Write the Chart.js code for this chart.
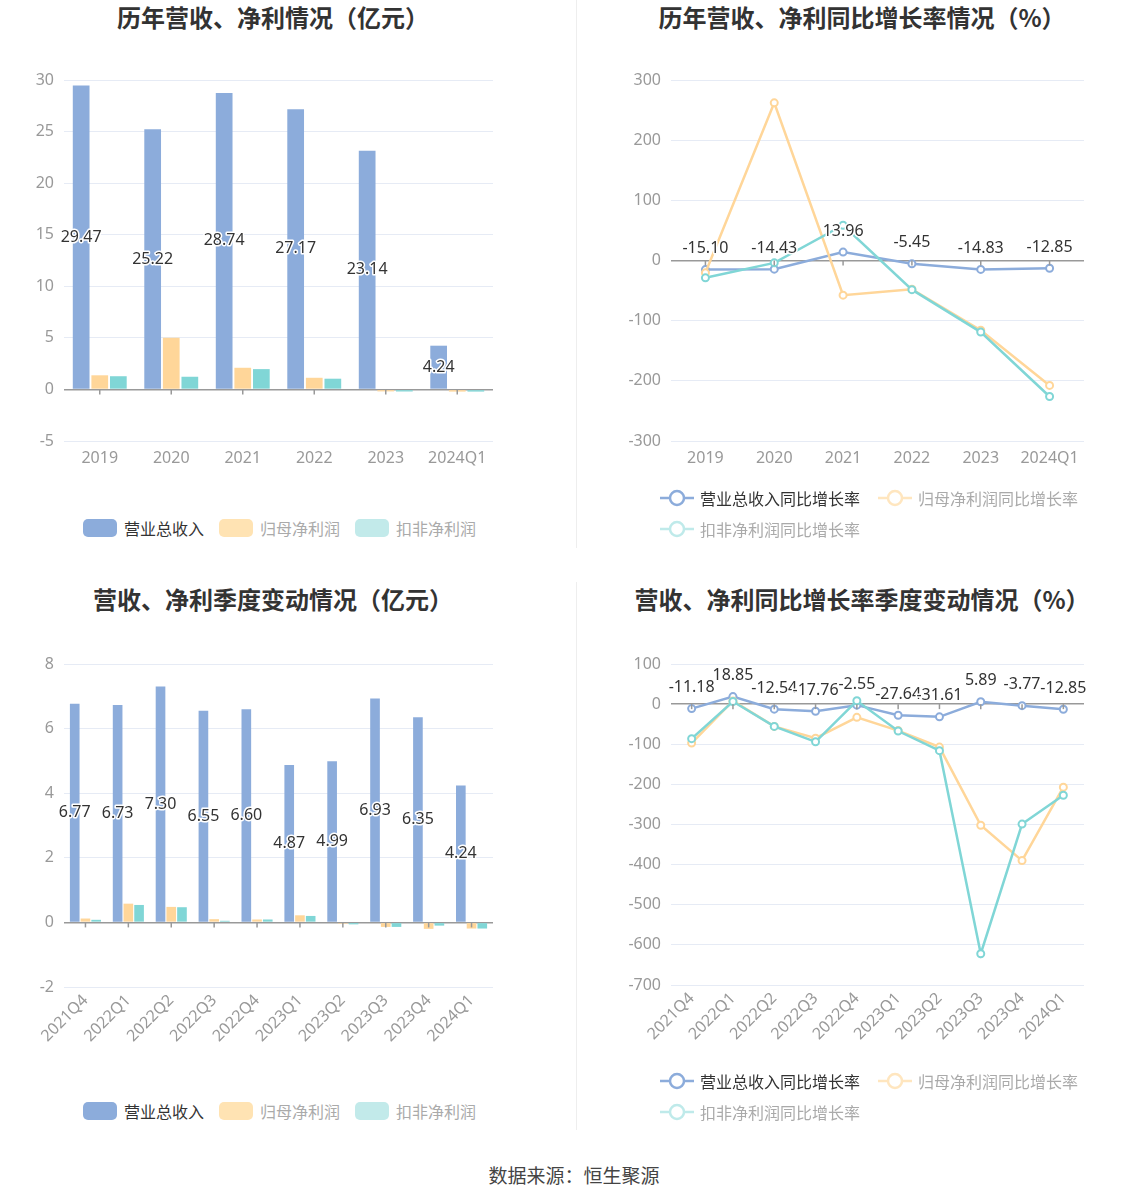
<!DOCTYPE html>
<html>
<head>
<meta charset="utf-8">
<script src="https://cdn.jsdelivr.net/npm/chart.js@4.4.1/dist/chart.umd.min.js"></script>
<style>
  body { margin: 0; background: #fff; font-family: "Noto Sans", "Noto Sans CJK SC", sans-serif; }
  #page { position: relative; width: 1148px; height: 1202px; overflow: hidden; }
  .title { position: absolute; width: 500px; margin-left: -250px; text-align: center; font-family: "Noto Sans CJK SC", sans-serif; font-size: 24px; font-weight: bold; color: #333; line-height: 36px; }
  canvas { position: absolute; }
  .divider { position: absolute; left: 576px; width: 1px; background: #eee; }
  .lg { position: absolute; height: 24px; line-height: 24px; font-family: "Noto Sans CJK SC", sans-serif; font-size: 16px; white-space: nowrap; }
  .lg .sw { position: absolute; left: 0; top: 3px; width: 34px; height: 18px; border-radius: 5px; }
  .lg svg { position: absolute; left: 0; top: 2px; }
  .lg span { position: absolute; top: 0; }
  #footer { position: absolute; left: 0; width: 1148px; top: 1160px; text-align: center; font-family: "Noto Sans CJK SC", sans-serif; font-size: 19px; color: #444; line-height: 30px; }
</style>
</head>
<body>
<div id="page">
  <div class="divider" style="top:0;height:548px"></div>
  <div class="divider" style="top:582px;height:548px"></div>

  <div class="title" style="left:273px;top:-1px">历年营收、净利情况（亿元）</div>
  <div class="title" style="left:862px;top:-1px">历年营收、净利同比增长率情况（%）</div>
  <div class="title" style="left:273px;top:581px">营收、净利季度变动情况（亿元）</div>
  <div class="title" style="left:862px;top:581px">营收、净利同比增长率季度变动情况（%）</div>

  <canvas id="yearBar" width="574" height="460" style="left:0;top:40px"></canvas>
  <canvas id="yearLine" width="574" height="460" style="left:574px;top:40px"></canvas>
  <canvas id="quarterBar" width="574" height="460" style="left:0;top:620px"></canvas>
  <canvas id="quarterLine" width="574" height="460" style="left:574px;top:620px"></canvas>

  <div id="footer">数据来源：恒生聚源</div>
</div>

<script>
// annual figures (亿元)
const yearLabels = ['2019', '2020', '2021', '2022', '2023', '2024Q1'];
const yearRevenue = [29.47, 25.22, 28.74, 27.17, 23.14, 4.24];
const yearNetProfit = [1.37, 5.02, 2.10, 1.13, -0.19, -0.21];
const yearDeductedProfit = [1.28, 1.23, 1.97, 1.04, -0.20, -0.21];

// annual growth (%)
const yearRevenueGrowth = [-15.10, -14.43, 13.96, -5.45, -14.83, -12.85];
const yearNetProfitGrowth = [-20.5, 262, -57.6, -47.7, -116, -207.6];
const yearDeductedGrowth = [-28.8, -3.9, 58.6, -48.5, -119, -226];

// quarterly figures (亿元)
const quarterLabels = ['2021Q4', '2022Q1', '2022Q2', '2022Q3', '2022Q4', '2023Q1', '2023Q2', '2023Q3', '2023Q4', '2024Q1'];
const quarterRevenue = [6.77, 6.73, 7.30, 6.55, 6.60, 4.87, 4.99, 6.93, 6.35, 4.24];
const quarterNetProfit = [0.12, 0.58, 0.48, 0.10, 0.09, 0.22, -0.04, -0.14, -0.20, -0.19];
const quarterDeductedProfit = [0.08, 0.54, 0.47, 0.05, 0.09, 0.20, -0.06, -0.14, -0.10, -0.19];

// quarterly growth (%)
const quarterRevenueGrowth = [-11.18, 18.85, -12.54, -17.76, -2.55, -27.64, -31.61, 5.89, -3.77, -12.85];
const quarterNetProfitGrowth = [-97, 8, -55.5, -85, -33, -66, -107, -302, -390, -207];
const quarterDeductedGrowth = [-86, 6.6, -55.5, -94, 8.3, -67, -116, -622, -299, -227];

const barNames = ['营业总收入', '归母净利润', '扣非净利润'];
const lineNames = ['营业总收入同比增长率', '归母净利润同比增长率', '扣非净利润同比增长率'];

const colors = ['#8cacdb', '#ffd699', '#80d6d6'];
const paleColors = ['#8cacdb', '#ffebcc', '#c2eaea'];
const tickFont = { family: '"Noto Sans", sans-serif', size: 16 };

// value labels for the first series + little ticks on the zero line
const decorations = {
  id: 'decorations',
  afterDatasetsDraw(chart, args, opts) {
    const ctx = chart.ctx;
    const x = chart.scales.x, y = chart.scales.y;
    const y0 = y.getPixelForValue(0);
    ctx.save();
    ctx.strokeStyle = '#999';
    ctx.lineWidth = 1.5;
    x.ticks.forEach((t, i) => {
      const px = x.getPixelForTick(i);
      ctx.beginPath();
      ctx.moveTo(px, y0);
      ctx.lineTo(px, y0 + 5);
      ctx.stroke();
    });
    const meta = chart.getDatasetMeta(0);
    const data = chart.data.datasets[0].data;
    ctx.font = '16px "Noto Sans", sans-serif';
    ctx.textAlign = 'center';
    ctx.textBaseline = 'middle';
    ctx.lineJoin = 'round';
    meta.data.forEach((el, i) => {
      const ly = opts.mode === 'bar' ? (el.y + el.base) / 2 : el.y - 21;
      const txt = data[i].toFixed(2);
      ctx.strokeStyle = '#fff';
      ctx.lineWidth = 3;
      ctx.strokeText(txt, el.x, ly);
      ctx.fillStyle = '#333';
      ctx.fillText(txt, el.x, ly);
    });
    ctx.restore();
  }
};

function scales(labels, min, max, step, area, rotate) {
  return {
    x: {
      type: 'category',
      offset: true,
      grid: { display: false, drawTicks: false },
      border: { display: false },
      ticks: {
        color: '#999', font: tickFont, padding: rotate ? 4 : 8,
        minRotation: rotate ? 45 : 0, maxRotation: rotate ? 45 : 0, autoSkip: false
      },
      afterFit(s) { s.height = area.xHeight; }
    },
    y: {
      min: min, max: max,
      grid: {
        drawTicks: false,
        color: c => c.tick && c.tick.value === 0 ? '#999' : '#e6ebf5',
        lineWidth: c => c.tick && c.tick.value === 0 ? 1.5 : 1
      },
      border: { display: false },
      ticks: { stepSize: step, color: '#999', font: tickFont, padding: 10 },
      afterFit(s) { s.width = area.yWidth; }
    }
  };
}

function barChart(id, labels, series, min, max, step, area, rotate, catPct) {
  return new Chart(document.getElementById(id), {
    type: 'bar',
    data: {
      labels: labels,
      datasets: series.map((d, i) => ({
        label: barNames[i], data: d, backgroundColor: colors[i],
        categoryPercentage: catPct, barPercentage: 0.9
      }))
    },
    options: {
      responsive: false, animation: false,
      layout: { padding: area.padding },
      plugins: { legend: { display: false }, tooltip: { enabled: false }, decorations: { mode: 'bar' } },
      scales: scales(labels, min, max, step, area, rotate)
    },
    plugins: [decorations]
  });
}

function lineChart(id, labels, series, min, max, step, area, rotate) {
  return new Chart(document.getElementById(id), {
    type: 'line',
    data: {
      labels: labels,
      datasets: series.map((d, i) => ({
        label: lineNames[i], data: d, borderColor: colors[i], borderWidth: 2.5,
        pointRadius: 3.5, pointBorderWidth: 2, pointBackgroundColor: '#fff', pointBorderColor: colors[i],
        tension: 0, order: 3 - i
      }))
    },
    options: {
      responsive: false, animation: false,
      layout: { padding: area.padding },
      plugins: { legend: { display: false }, tooltip: { enabled: false }, decorations: { mode: 'line' } },
      scales: scales(labels, min, max, step, area, rotate)
    },
    plugins: [decorations]
  });
}

barChart('yearBar', yearLabels, [yearRevenue, yearNetProfit, yearDeductedProfit], -5, 30, 5,
  { padding: { top: 40, right: 81, left: 0, bottom: 0 }, yWidth: 64, xHeight: 59 }, false, 0.78);
lineChart('yearLine', yearLabels, [yearRevenueGrowth, yearNetProfitGrowth, yearDeductedGrowth], -300, 300, 100,
  { padding: { top: 40, right: 64, left: 0, bottom: 0 }, yWidth: 97, xHeight: 59 }, false);
barChart('quarterBar', quarterLabels, [quarterRevenue, quarterNetProfit, quarterDeductedProfit], -2, 8, 2,
  { padding: { top: 44, right: 81, left: 0, bottom: 0 }, yWidth: 64, xHeight: 93 }, true, 0.75);
lineChart('quarterLine', quarterLabels, [quarterRevenueGrowth, quarterNetProfitGrowth, quarterDeductedGrowth], -700, 100, 100,
  { padding: { top: 44, right: 64, left: 0, bottom: 0 }, yWidth: 97, xHeight: 95 }, true);

// legends
const page = document.getElementById('page');
function addLegend(kind, x, y, i) {
  const d = document.createElement('div');
  d.className = 'lg';
  d.style.left = x + 'px';
  d.style.top = (y - 12) + 'px';
  const textColor = i === 0 ? '#333' : '#aaa';
  const c = paleColors[i];
  if (kind === 'bar') {
    d.innerHTML = '<div class="sw" style="background:' + c + '"></div><span style="left:41px;color:' + textColor + '">' + barNames[i] + '</span>';
  } else {
    d.innerHTML = '<svg width="34" height="20"><line x1="0" y1="10" x2="34" y2="10" stroke="' + c + '" stroke-width="2.5"/>' +
      '<circle cx="17" cy="10" r="7" fill="#fff" stroke="' + c + '" stroke-width="2.5"/></svg>' +
      '<span style="left:40px;color:' + textColor + '">' + lineNames[i] + '</span>';
  }
  page.appendChild(d);
}
paleColors[1] = '#ffe3b3';
[83, 219, 355].forEach((x, i) => { addLegend('bar', x, 528, i); addLegend('bar', x, 1111, i); });
paleColors[1] = '#ffe6bf';
paleColors[2] = '#bfeaea';
[[660, 498], [878, 498], [660, 529]].forEach((p, i) => { addLegend('line', p[0], p[1], i); addLegend('line', p[0], p[1] + 583, i); });
</script>
</body>
</html>
